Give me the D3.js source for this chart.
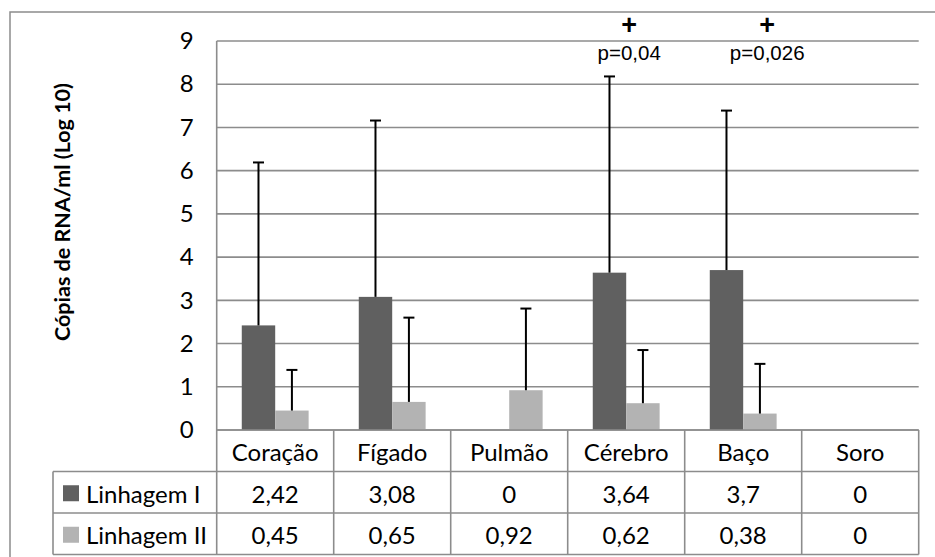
<!DOCTYPE html>
<html>
<head>
<meta charset="utf-8">
<script src="https://cdn.jsdelivr.net/npm/d3@7/dist/d3.min.js"></script>
<style>
  body { margin: 0; background: #fff; }
  svg { display: block; }
</style>
</head>
<body>
<div id="chart"></div>
<script>
// chart data
var categories = ["Coração", "Fígado", "Pulmão", "Cérebro", "Baço", "Soro"];
var seriesNames = ["Linhagem I", "Linhagem II"];
var linhagemI = [2.42, 3.08, 0, 3.64, 3.7, 0];
var linhagemII = [0.45, 0.65, 0.92, 0.62, 0.38, 0];
// upper error bars
var errI = [3.77, 4.08, 0, 4.54, 3.69, 0];
var errII = [0.94, 1.95, 1.89, 1.23, 1.15, 0];
var yTicks = [0, 1, 2, 3, 4, 5, 6, 7, 8, 9];
var notes = [
    {category: "Cérebro", mark: "+", p: "p=0,04"},
    {category: "Baço", mark: "+", p: "p=0,026"}
];

var width = 935, height = 557;
var plot = {left: 216.7, right: 918.7, top: 41, bottom: 430};
var rowH = 41.5;
var tableLeft = 53;
var colors = ["#606060", "#b3b3b3"];
var gridColor = "#8c8c8c";
var calibri = "Lato, 'Open Sans', sans-serif";
var arial = "'Liberation Sans', Arial, sans-serif";
var fontSize = 24;

var ptBR = d3.formatLocale({decimal: ",", thousands: ".", grouping: [3], currency: ["", ""]});
var fmt = ptBR.format("~g");

var svg = d3.select("#chart").append("svg")
    .attr("width", width)
    .attr("height", height);

// outer chart border (right and bottom run off the picture)
svg.append("rect")
    .attr("x", 10).attr("y", 12)
    .attr("width", 940).attr("height", 560)
    .attr("fill", "none")
    .attr("stroke", gridColor)
    .attr("stroke-width", 1.5);

var x0 = d3.scaleBand()
    .domain(categories)
    .range([plot.left, plot.right])
    .padding(0);

var x1 = d3.scaleBand()
    .domain(seriesNames)
    .range([0, x0.bandwidth()])
    .paddingInner(0)
    .paddingOuter(0.75);

var y = d3.scaleLinear()
    .domain([0, 9])
    .range([plot.bottom, plot.top]);

// gridlines
svg.append("g").attr("class", "grid")
    .selectAll("line")
    .data(yTicks)
    .enter().append("line")
    .attr("x1", plot.left).attr("x2", plot.right)
    .attr("y1", d => y(d)).attr("y2", d => y(d))
    .attr("stroke", gridColor)
    .attr("stroke-width", 1.6);

// y axis line (runs down through the table)
svg.append("line")
    .attr("x1", plot.left).attr("x2", plot.left)
    .attr("y1", plot.top).attr("y2", plot.bottom + 3 * rowH)
    .attr("stroke", gridColor)
    .attr("stroke-width", 1.6);

// y tick labels
var yAxis = svg.append("g")
    .attr("transform", "translate(" + (plot.left - 23) + ",0)")
    .call(d3.axisLeft(y).tickValues(yTicks).tickSize(0).tickPadding(0).tickFormat(d3.format("d")));
yAxis.select(".domain").remove();
yAxis.selectAll("text")
    .attr("font-family", calibri)
    .attr("font-size", fontSize)
    .attr("fill", "#000");

// y title
svg.append("text")
    .attr("transform", "translate(70," + 212 + ") rotate(-90)")
    .attr("text-anchor", "middle")
    .attr("font-family", calibri)
    .attr("font-weight", "bold")
    .attr("font-size", 21.5)
    .text("Cópias de RNA/ml (Log 10)");

// bars
var seriesData = [linhagemI, linhagemII];
var errData = [errI, errII];
var rows = seriesNames.map((name, s) => categories.map((c, i) => ({
    series: name, category: c, value: seriesData[s][i], err: errData[s][i], idx: s
})));

var groups = svg.selectAll("g.series").data(rows)
    .enter().append("g")
    .attr("class", "series");

groups.selectAll("rect")
    .data(d => d.filter(v => v.value > 0))
    .enter().append("rect")
    .attr("x", d => x0(d.category) + x1(d.series))
    .attr("y", d => y(d.value))
    .attr("width", x1.bandwidth())
    .attr("height", d => y(0) - y(d.value))
    .attr("fill", d => colors[d.idx]);

// error bars (upper only)
var capW = 11;
var errs = groups.selectAll("g.err")
    .data(d => d.filter(v => v.value > 0 && v.err > 0))
    .enter().append("g")
    .attr("class", "err")
    .attr("stroke", "#000")
    .attr("stroke-width", 2);

errs.append("line")
    .attr("x1", d => x0(d.category) + x1(d.series) + x1.bandwidth() / 2)
    .attr("x2", d => x0(d.category) + x1(d.series) + x1.bandwidth() / 2)
    .attr("y1", d => y(d.value))
    .attr("y2", d => y(d.value + d.err));

errs.append("line")
    .attr("x1", d => x0(d.category) + x1(d.series) + x1.bandwidth() / 2 - capW / 2)
    .attr("x2", d => x0(d.category) + x1(d.series) + x1.bandwidth() / 2 + capW / 2)
    .attr("y1", d => y(d.value + d.err))
    .attr("y2", d => y(d.value + d.err));

// significance notes
var noteShift = {"Cérebro": 3, "Baço": 24};
var noteG = svg.selectAll("g.note").data(notes)
    .enter().append("g")
    .attr("class", "note")
    .attr("transform", d => "translate(" + (x0(d.category) + x0.bandwidth() / 2 + noteShift[d.category]) + ",0)");

noteG.append("text")
    .attr("y", 34)
    .attr("text-anchor", "middle")
    .attr("font-family", arial)
    .attr("font-weight", "bold")
    .attr("font-size", 27)
    .text(d => d.mark);

noteG.append("text")
    .attr("y", 60)
    .attr("text-anchor", "middle")
    .attr("font-family", arial)
    .attr("font-size", 20.5)
    .text(d => d.p);

// data table
var table = svg.append("g").attr("class", "table")
    .attr("stroke", gridColor)
    .attr("stroke-width", 1.6);

[1, 2, 3].forEach(r => {
    table.append("line")
        .attr("x1", tableLeft).attr("x2", plot.right)
        .attr("y1", plot.bottom + r * rowH).attr("y2", plot.bottom + r * rowH);
});
table.append("line")
    .attr("x1", tableLeft).attr("x2", tableLeft)
    .attr("y1", plot.bottom + rowH).attr("y2", plot.bottom + 3 * rowH);

table.selectAll("line.col")
    .data(categories)
    .enter().append("line")
    .attr("class", "col")
    .attr("x1", d => x0(d) + x0.bandwidth()).attr("x2", d => x0(d) + x0.bandwidth())
    .attr("y1", plot.bottom).attr("y2", plot.bottom + 3 * rowH);

svg.append("line")
    .attr("x1", plot.left).attr("x2", plot.right)
    .attr("y1", plot.bottom).attr("y2", plot.bottom)
    .attr("stroke", gridColor)
    .attr("stroke-width", 1.6);

// category row
svg.selectAll("text.cat")
    .data(categories)
    .enter().append("text")
    .attr("class", "cat")
    .attr("x", d => x0(d) + x0.bandwidth() / 2)
    .attr("y", plot.bottom + 31)
    .attr("text-anchor", "middle")
    .attr("font-family", calibri)
    .attr("font-size", fontSize)
    .text(d => d);

// value rows with legend keys
rows.forEach((row, s) => {
    var top = plot.bottom + (s + 1) * rowH;
    svg.append("rect")
        .attr("x", 63).attr("y", top + rowH / 2 - 7)
        .attr("width", 16).attr("height", 16)
        .attr("fill", colors[s]);
    svg.append("text")
        .attr("x", 86)
        .attr("y", top + 31)
        .attr("font-family", calibri)
        .attr("font-size", fontSize)
        .text(seriesNames[s]);
    svg.selectAll("text.v" + s)
        .data(row)
        .enter().append("text")
        .attr("class", "v" + s)
        .attr("x", d => x0(d.category) + x0.bandwidth() / 2)
        .attr("y", top + 31)
        .attr("text-anchor", "middle")
        .attr("font-family", calibri)
        .attr("font-size", fontSize)
        .text(d => fmt(d.value));
});
</script>
</body>
</html>
